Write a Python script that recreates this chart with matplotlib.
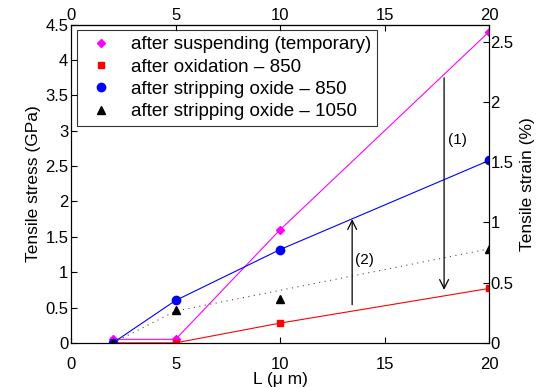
import numpy as np
import matplotlib.pyplot as plt

plt.rcParams['font.family'] = ['Liberation Sans', 'DejaVu Sans']
plt.rcParams['xtick.direction'] = 'in'
plt.rcParams['ytick.direction'] = 'in'

# data
L = [2, 5, 10, 20]
suspending = [0.05, 0.05, 1.6, 4.4]
oxidation = [0.0, 0.0, 0.28, 0.77]
strip850 = [0.0, 0.6, 1.32, 2.58]
strip1050 = [0.0, 0.47, 0.62, 1.33]
# dotted guide line
guide_L = [2, 5, 20]
guide_s = [0.0, 0.45, 1.33]

xticks = [0, 5, 10, 15, 20]

fig = plt.figure(figsize=(5.47, 3.87), dpi=100)
ax = fig.add_axes([0.130, 0.114, 0.764, 0.822])

ax.plot(L, suspending, color='magenta', lw=0.8, marker='D', ms=4.5, mec='magenta',
        label='after suspending (temporary)')
ax.plot(L, oxidation, color='red', lw=0.8, marker='s', ms=5, mec='red',
        label='after oxidation \u2013 850')
ax.plot(L, strip850, color='blue', lw=0.8, marker='o', ms=6, mec='blue',
        label='after stripping oxide \u2013 850')
ax.plot(guide_L, guide_s, color='0.3', lw=0.8, ls=(0, (1, 4)))
ax.plot(L, strip1050, color='black', ls='none', marker='^', ms=6,
        label='after stripping oxide \u2013 1050')

# arrows
ax.annotate('', xy=(17.85, 0.75), xytext=(17.85, 3.75),
            arrowprops=dict(arrowstyle='->', color='black', lw=0.9,
                            mutation_scale=16, shrinkA=0, shrinkB=0))
ax.text(18.5, 2.87, '(1)', fontsize=11, ha='center', va='center')
ax.annotate('', xy=(13.45, 1.75), xytext=(13.45, 0.54),
            arrowprops=dict(arrowstyle='->', color='black', lw=0.9,
                            mutation_scale=16, shrinkA=0, shrinkB=0))
ax.text(14.05, 1.17, '(2)', fontsize=11, ha='center', va='center')

ax.set_xlim(0, 20)
ax.set_ylim(0, 4.5)
ax.set_xticks(xticks)
ax.set_yticks(np.arange(0, 4.51, 0.5))
ax.set_yticklabels(['0', '0.5', '1', '1.5', '2', '2.5', '3', '3.5', '4', '4.5'])
ax.tick_params(axis='y', labelsize=12, length=4, pad=2)
ax.tick_params(axis='x', labelsize=12, length=4, pad=10)
ax.set_xlabel('L (\u03bc m)', fontsize=12.5, labelpad=0)
ax.set_ylabel('Tensile stress (GPa)', fontsize=12.5, labelpad=3)

top = ax.secondary_xaxis('top')
top.set_xticks(xticks)
top.tick_params(labelsize=12, length=4, pad=1)

ax2 = ax.twinx()
ax2.set_ylim(0, 2.64)
ax2.set_yticks([0, 0.5, 1, 1.5, 2, 2.5])
ax2.set_yticklabels(['0', '0.5', '1', '1.5', '2', '2.5'])
ax2.tick_params(labelsize=12, length=4, pad=1)
ax2.set_ylabel('Tensile strain (%)', fontsize=12.5, labelpad=5)

leg = ax.legend(loc='upper left', fontsize=13.5, frameon=True, fancybox=False,
                edgecolor='black', borderaxespad=0.3, handlelength=2.0,
                labelspacing=0.28, borderpad=0.3, handletextpad=0.6)
leg.get_frame().set_linewidth(0.8)
for h in leg.legend_handles:
    h.set_linestyle('none')

fig.savefig('out.png', dpi=100)
